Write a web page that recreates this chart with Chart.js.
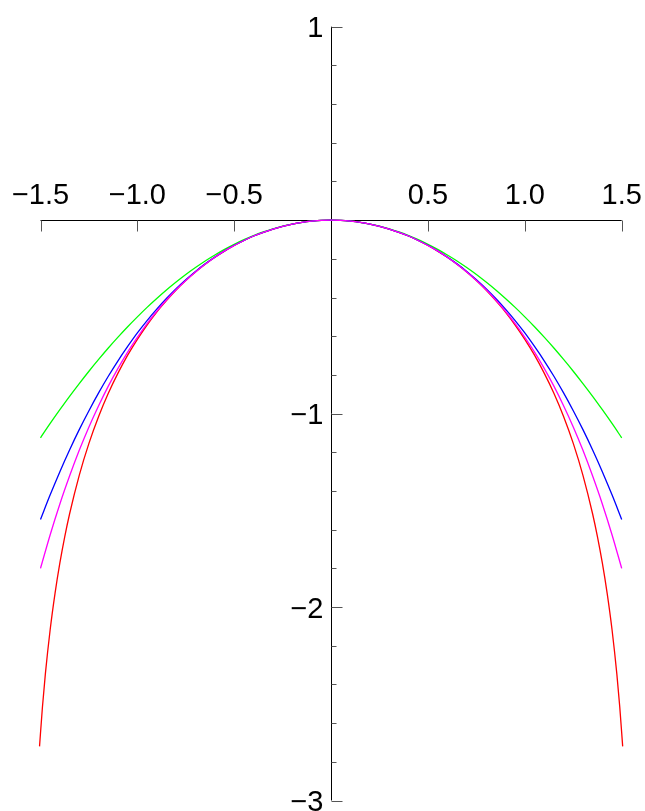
<!DOCTYPE html>
<html>
<head>
<meta charset="utf-8">
<script src="https://cdn.jsdelivr.net/npm/chart.js@4.4.1/dist/chart.umd.min.js"></script>
<style>
  html, body { margin: 0; padding: 0; background: #fff; }
  #wrap { width: 645px; height: 811px; }
</style>
</head>
<body>
<div id="wrap"><canvas id="plot" width="645" height="811"></canvas></div>
<script>
// log(cos x) against its even-power series truncations; only x >= 0 is listed,
// the curves are symmetric and get mirrored below
const xHalf = [0, 0.05, 0.1, 0.15, 0.2, 0.25, 0.3, 0.35, 0.4, 0.45, 0.5,
  0.55, 0.6, 0.65, 0.7, 0.75, 0.8, 0.85, 0.9, 0.95, 1.0,
  1.05, 1.1, 1.15, 1.2, 1.25, 1.3, 1.35, 1.4, 1.45, 1.5];

const greenHalf = [0, -0.001, -0.005, -0.011, -0.02, -0.031, -0.045, -0.061, -0.08, -0.101,
  -0.125, -0.151, -0.18, -0.211, -0.245, -0.281, -0.32, -0.361, -0.405, -0.451,
  -0.5, -0.551, -0.605, -0.661, -0.72, -0.781, -0.845, -0.911, -0.98, -1.051, -1.125];
const blueHalf = [0, -0.001, -0.005, -0.011, -0.02, -0.032, -0.046, -0.063, -0.082, -0.105,
  -0.13, -0.159, -0.191, -0.226, -0.265, -0.308, -0.354, -0.405, -0.46, -0.519,
  -0.583, -0.653, -0.727, -0.807, -0.893, -0.985, -1.083, -1.188, -1.3, -1.42, -1.547];
const magentaHalf = [0, -0.001, -0.005, -0.011, -0.02, -0.032, -0.046, -0.063, -0.082, -0.105,
  -0.131, -0.159, -0.192, -0.228, -0.268, -0.312, -0.36, -0.413, -0.471, -0.535,
  -0.606, -0.682, -0.766, -0.858, -0.959, -1.069, -1.19, -1.323, -1.467, -1.626, -1.8];

// log-cos drops steeply near the ends, so it is sampled more densely there
const redXHalf = [0, 0.05, 0.1, 0.15, 0.2, 0.25, 0.3, 0.35, 0.4, 0.45, 0.5,
  0.55, 0.6, 0.65, 0.7, 0.75, 0.8, 0.85, 0.9, 0.95, 1.0,
  1.05, 1.1, 1.15, 1.2, 1.25, 1.3, 1.35, 1.375, 1.4, 1.425, 1.45, 1.475, 1.49, 1.505];
const redHalf = [0, -0.001, -0.005, -0.011, -0.02, -0.032, -0.046, -0.063, -0.082, -0.105,
  -0.131, -0.16, -0.192, -0.228, -0.268, -0.312, -0.361, -0.416, -0.475, -0.542,
  -0.616, -0.698, -0.791, -0.895, -1.015, -1.154, -1.319, -1.519, -1.637, -1.772, -1.929,
  -2.116, -2.347, -2.517, -2.72];

const xTicks = [-1.5, -1.0, -0.5, 0.5, 1.0, 1.5];
const xTickLabels = ['\u22121.5', '\u22121.0', '\u22120.5', '0.5', '1.0', '1.5'];
const yTicks = [1, -1, -2, -3];
const yTickLabels = ['1', '\u22121', '\u22122', '\u22123'];
const yMinorTicks = [0.8, 0.6, 0.4, 0.2, -0.2, -0.4, -0.6, -0.8, -1.2, -1.4, -1.6, -1.8,
  -2.2, -2.4, -2.6, -2.8];

function toPoints(xh, yh) {
  const left = xh.slice(1).reverse().map((x, i) => ({ x: -x, y: yh[xh.length - 1 - i] }));
  const right = xh.map((x, i) => ({ x, y: yh[i] }));
  return left.concat(right);
}

const FONT = '29px "Liberation Sans", Arial, sans-serif';

// axes cross at the origin, labels above the x axis and left of the y axis
const crossAxes = {
  id: 'crossAxes',
  beforeDatasetsDraw(chart) {
    const { ctx, scales: { x, y } } = chart;
    const x0 = Math.round(x.getPixelForValue(0)) + 0.5;
    const y0 = Math.round(y.getPixelForValue(0)) + 0.5;
    ctx.save();
    ctx.lineWidth = 1;

    ctx.strokeStyle = '#000';
    ctx.beginPath();
    ctx.moveTo(x.getPixelForValue(-1.5), y0);
    ctx.lineTo(x.getPixelForValue(1.5), y0);
    ctx.moveTo(x0, y.getPixelForValue(1));
    ctx.lineTo(x0, y.getPixelForValue(-3));
    ctx.stroke();

    ctx.strokeStyle = '#555';
    ctx.beginPath();
    xTicks.forEach(v => {
      const px = Math.round(x.getPixelForValue(v)) + 0.5;
      ctx.moveTo(px, y0);
      ctx.lineTo(px, y0 + 11);
    });
    yTicks.forEach(v => {
      const py = Math.round(y.getPixelForValue(v)) + 0.5;
      ctx.moveTo(x0, py);
      ctx.lineTo(x0 + 11, py);
    });
    yMinorTicks.forEach(v => {
      const py = Math.round(y.getPixelForValue(v)) + 0.5;
      ctx.moveTo(x0, py);
      ctx.lineTo(x0 + 5, py);
    });
    ctx.stroke();

    ctx.fillStyle = '#000';
    ctx.font = FONT;
    ctx.textBaseline = 'alphabetic';
    ctx.textAlign = 'center';
    xTicks.forEach((v, i) => {
      ctx.fillText(xTickLabels[i], x.getPixelForValue(v), y0 - 16.5);
    });
    ctx.textAlign = 'right';
    yTicks.forEach((v, i) => {
      ctx.fillText(yTickLabels[i], x0 - 8, y.getPixelForValue(v) + 10.5);
    });
    ctx.restore();
  }
};

function series(xh, yh, color) {
  return {
    data: toPoints(xh, yh),
    borderColor: color,
    borderWidth: 1.3,
    pointRadius: 0,
    fill: false,
    cubicInterpolationMode: 'monotone',
    clip: false
  };
}

// first dataset is painted last, so magenta ends up on top
new Chart(document.getElementById('plot'), {
  type: 'line',
  data: {
    datasets: [
      series(xHalf, magentaHalf, '#ff00ff'),
      series(xHalf, blueHalf, '#0000ff'),
      series(xHalf, greenHalf, '#00ff00'),
      series(redXHalf, redHalf, '#ff0000')
    ]
  },
  options: {
    responsive: false,
    animation: false,
    layout: { padding: { left: 40.5, right: 23.3, top: 26.7, bottom: 10.5 } },
    plugins: { legend: { display: false }, tooltip: { enabled: false } },
    scales: {
      x: { type: 'linear', min: -1.5, max: 1.5, display: false },
      y: { type: 'linear', min: -3, max: 1, display: false }
    }
  },
  plugins: [crossAxes]
});
</script>
</body>
</html>
